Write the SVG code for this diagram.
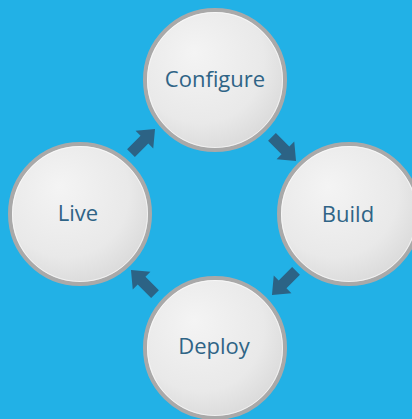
<svg xmlns="http://www.w3.org/2000/svg" width="412" height="419" viewBox="0 0 412 419">
  <defs>
    <radialGradient id="ball" cx="0.42" cy="0.38" r="0.7" fx="0.35" fy="0.3">
      <stop offset="0" stop-color="#f4f4f4"/>
      <stop offset="0.65" stop-color="#e9e9e9"/>
      <stop offset="1" stop-color="#d6d6d6"/>
    </radialGradient>
    <path id="arr" d="M-17,-5.5 L2,-5.5 L2,-12.5 L17,0 L2,12.5 L2,5.5 L-17,5.5 Z"/>
    <style>
      .node circle.ring { fill: url(#ball); stroke: #a9a9a9; stroke-width: 4; }
      .node circle.hl { fill: none; stroke: #ffffff; stroke-opacity: 0.6; stroke-width: 1; }
      .node text { font-family: "Open Sans", "Noto Sans", sans-serif; font-size: 22px; fill: #2f6486; text-anchor: middle; }
      .conn use { fill: #2c6385; }
    </style>
  </defs>
  <rect width="412" height="419" fill="#22b1e6"/>
  <g id="connectors" class="conn">
    <use href="#arr" transform="translate(143,141) rotate(-45)"/>
    <use href="#arr" transform="translate(284,149) rotate(45)"/>
    <use href="#arr" transform="translate(284,283) rotate(135)"/>
    <use href="#arr" transform="translate(143,282) rotate(-135)"/>
  </g>
  <g id="configure" class="node">
    <circle class="ring" cx="215" cy="80" r="70"/>
    <circle class="hl" cx="215" cy="80" r="67.5"/>
    <text x="215" y="87">Configure</text>
  </g>
  <g id="build" class="node">
    <circle class="ring" cx="349" cy="214" r="70"/>
    <circle class="hl" cx="349" cy="214" r="67.5"/>
    <text x="348" y="222">Build</text>
  </g>
  <g id="deploy" class="node">
    <circle class="ring" cx="215" cy="348" r="70"/>
    <circle class="hl" cx="215" cy="348" r="67.5"/>
    <text x="214" y="354">Deploy</text>
  </g>
  <g id="live" class="node">
    <circle class="ring" cx="80" cy="214" r="70"/>
    <circle class="hl" cx="80" cy="214" r="67.5"/>
    <text x="78" y="221">Live</text>
  </g>
</svg>
